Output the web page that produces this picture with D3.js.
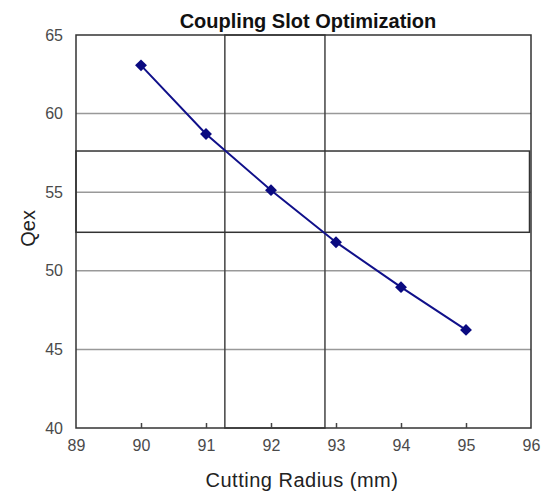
<!DOCTYPE HTML>
<html>
  <head>
    <script src="https://d3js.org/d3.v7.min.js"></script>
    <style>
      body { margin: 0; background: white; }
      .tick text { fill: #4a4a4a; font: 16px "Liberation Sans", Arial, sans-serif; }
      .title { font: bold 20px "Liberation Sans", Arial, sans-serif; fill: #111; }
      .axis-title { font: 20px "Liberation Sans", Arial, sans-serif; fill: #222; }
    </style>
    <title>Coupling Slot Optimization</title>
  </head>
  <body>
    <svg id="chart" width="549" height="491"></svg>
    <script>
      var radius = [90, 91, 92, 93, 94, 95];
      var qex = [63.07, 58.7, 55.13, 51.82, 48.96, 46.24];
      var xTicks = [89, 90, 91, 92, 93, 94, 95, 96];
      var yTicks = [40, 45, 50, 55, 60, 65];
      // highlighted ranges
      var radiusBand = [91.29, 92.83];
      var qexBand = [52.45, 57.62];

      var plotLeft = 76, plotTop = 35, width = 455, height = 393;
      var svg = d3.select("#chart");

      var x = d3.scaleLinear().domain([89, 96]).range([plotLeft, plotLeft + width]);
      var y = d3.scaleLinear().domain([40, 65]).range([plotTop + height, plotTop]);

      // horizontal gridlines
      svg.append("g").selectAll("line").data(yTicks.slice(1, -1)).enter().append("line")
        .attr("x1", x(89)).attr("x2", x(96))
        .attr("y1", function(d){ return y(d); }).attr("y2", function(d){ return y(d); })
        .attr("stroke", "#999").attr("stroke-width", 1.5);

      // band boxes
      svg.append("rect")
        .attr("x", x(radiusBand[0])).attr("y", y(65))
        .attr("width", x(radiusBand[1]) - x(radiusBand[0])).attr("height", y(40) - y(65))
        .attr("fill", "none").attr("stroke", "#444").attr("stroke-width", 1.5);
      svg.append("rect")
        .attr("x", x(89)).attr("y", y(qexBand[1]))
        .attr("width", x(96) - x(89) - 1.5).attr("height", y(qexBand[0]) - y(qexBand[1]))
        .attr("fill", "none").attr("stroke", "#333").attr("stroke-width", 1.5);

      // plot frame
      svg.append("rect")
        .attr("x", x(89)).attr("y", y(65)).attr("width", width).attr("height", height)
        .attr("fill", "none").attr("stroke", "#333").attr("stroke-width", 1.5);

      // x axis
      var xAxis = svg.append("g").attr("transform", "translate(0," + y(40) + ")")
        .call(d3.axisBottom(x).tickValues(xTicks).tickSize(-5).tickPadding(12).tickFormat(d3.format("d")));
      xAxis.select(".domain").remove();
      xAxis.selectAll(".tick line").attr("stroke", "#444").attr("stroke-width", 1.5)
        .filter(function(d){ return d === 89 || d === 96; }).remove();

      // y axis
      var yAxis = svg.append("g").attr("transform", "translate(" + x(89) + ",0)")
        .call(d3.axisLeft(y).tickValues(yTicks).tickSize(0).tickPadding(13));
      yAxis.select(".domain").remove();

      // series
      var line = d3.line().x(function(d){ return x(d[0]); }).y(function(d){ return y(d[1]); });
      var pts = d3.zip(radius, qex);
      svg.append("path").datum(pts).attr("d", line)
        .attr("fill", "none").attr("stroke", "#10108a").attr("stroke-width", 2);
      svg.append("g").selectAll("path").data(pts).enter().append("path")
        .attr("d", d3.symbol().type(d3.symbolDiamond2).size(90))
        .attr("transform", function(d){ return "translate(" + x(d[0]) + "," + y(d[1]) + ")"; })
        .attr("fill", "#0a0a80");

      // titles
      svg.append("text").attr("class", "title").attr("x", 308).attr("y", 28)
        .attr("text-anchor", "middle").text("Coupling Slot Optimization");
      svg.append("text").attr("class", "axis-title").attr("x", 302).attr("y", 487)
        .attr("text-anchor", "middle").style("letter-spacing", "0.5px").text("Cutting Radius (mm)");
      svg.append("text").attr("class", "axis-title")
        .attr("transform", "translate(35," + y(52.7) + ") rotate(-90)")
        .attr("text-anchor", "middle").text("Qex");
    </script>
  </body>
</html>
